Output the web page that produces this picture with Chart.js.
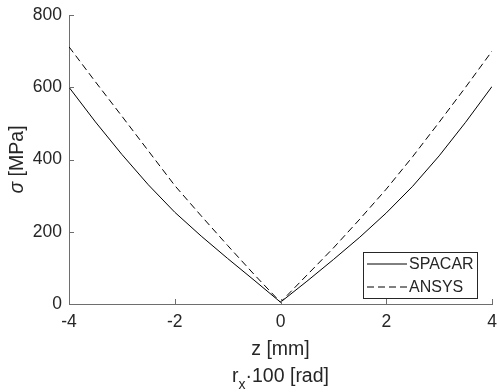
<!DOCTYPE html>
<html>
<head>
<meta charset="utf-8">
<script src="https://cdn.jsdelivr.net/npm/chart.js@4/dist/chart.umd.min.js"></script>
<style>
  body { margin: 0; background: #fff; }
  #wrap { width: 497px; height: 392px; }
</style>
</head>
<body>
<div id="wrap"><canvas id="chart1"></canvas></div>
<script>
// data (z in mm, sigma in MPa)
var zValues = [-4, -3.5, -3, -2.5, -2, -1.5, -1, -0.5, 0, 0.5, 1, 1.5, 2, 2.5, 3, 3.5, 4]
var spacarValues = [600, 504, 414, 330, 254, 188, 126, 66, 5, 63, 123, 185, 252, 326, 410, 503, 602]
var ansysValues = [712, 615, 520, 424, 328, 244, 162, 82, 5, 80, 155, 235, 318, 408, 503, 600, 700]
var xTicks = [-4, -2, 0, 2, 4]
var yTicks = [0, 200, 400, 600, 800]
var seriesNames = ['SPACAR', 'ANSYS']

var FONT = '"Liberation Sans", Arial, Helvetica, sans-serif'
var textColor = '#262626'
var axisColor = '#6e6e6e'

function toPoints(xs, ys) {
    var pts = []
    for (var i = 0; i < xs.length; i++) {
        pts.push({x: xs[i], y: ys[i]})
    }
    return pts
}

// matlab-ish extras: inward ticks, axis titles, boxed legend
var extrasPlugin = {
    id: 'extras',
    afterDatasetsDraw: function(chart) {
        var ctx = chart.ctx
        var area = chart.chartArea
        var xs = chart.scales.x
        var ys = chart.scales.y
        ctx.save()

        // inward ticks
        ctx.strokeStyle = axisColor
        ctx.lineWidth = 1
        ctx.beginPath()
        for (var i = 0; i < xTicks.length; i++) {
            var px = Math.round(xs.getPixelForValue(xTicks[i])) + 0.5
            ctx.moveTo(px, area.bottom)
            ctx.lineTo(px, area.bottom - 5)
        }
        for (var j = 0; j < yTicks.length; j++) {
            var py = Math.round(ys.getPixelForValue(yTicks[j])) + 0.5
            ctx.moveTo(area.left, py)
            ctx.lineTo(area.left + 5, py)
        }
        ctx.stroke()

        // x title, two lines
        var cx = (area.left + area.right) / 2
        ctx.fillStyle = textColor
        ctx.textBaseline = 'middle'
        ctx.textAlign = 'center'
        ctx.font = '19.5px ' + FONT
        ctx.fillText('z [mm]', cx, area.bottom + 46)

        ctx.textAlign = 'left'
        var subFont = '14px ' + FONT
        var wR = ctx.measureText('r').width
        var rest = '\u00b7100 [rad]'
        var wRest = ctx.measureText(rest).width
        ctx.font = subFont
        var wX = ctx.measureText('x').width
        var total = wR + wX + wRest
        var sx = cx - total / 2
        var ly = area.bottom + 73
        ctx.font = '19.5px ' + FONT
        ctx.fillText('r', sx, ly)
        ctx.font = subFont
        ctx.fillText('x', sx + wR, ly + 8)
        ctx.font = '19.5px ' + FONT
        ctx.fillText(rest, sx + wR + wX, ly)

        // y title, rotated
        ctx.save()
        ctx.translate(18, (area.top + area.bottom) / 2)
        ctx.rotate(-Math.PI / 2)
        ctx.font = 'italic 19.5px ' + FONT
        var wS = ctx.measureText('\u03c3').width
        ctx.font = '19.5px ' + FONT
        var wM = ctx.measureText(' [MPa]').width
        var tx = -(wS + wM) / 2
        ctx.font = 'italic 19.5px ' + FONT
        ctx.fillText('\u03c3', tx, 0)
        ctx.font = '19.5px ' + FONT
        ctx.fillText(' [MPa]', tx + wS, 0)
        ctx.restore()

        // legend box in lower right corner
        var bw = 114, bh = 46
        var bx = area.right - 15 - bw
        var by = area.bottom - 6 - bh
        ctx.fillStyle = '#ffffff'
        ctx.fillRect(bx, by, bw, bh)
        ctx.strokeStyle = '#262626'
        ctx.lineWidth = 1
        ctx.strokeRect(Math.round(bx) + 0.5, Math.round(by) + 0.5, bw, bh)
        ctx.font = '16px ' + FONT
        ctx.fillStyle = textColor
        for (var k = 0; k < seriesNames.length; k++) {
            var yy = by + 12 + k * 23
            ctx.strokeStyle = '#000'
            ctx.setLineDash(k == 0 ? [] : [7, 4])
            ctx.beginPath()
            ctx.moveTo(bx + 4, yy)
            ctx.lineTo(bx + 44, yy)
            ctx.stroke()
            ctx.setLineDash([])
            ctx.fillText(seriesNames[k], bx + 46, yy + 1)
        }
        ctx.restore()
    }
}

var lineChartData = {
    datasets: [{
        label: seriesNames[0],
        data: toPoints(zValues, spacarValues),
        borderColor: '#000',
        borderWidth: 1,
        pointRadius: 0,
        fill: false,
    }, {
        label: seriesNames[1],
        data: toPoints(zValues, ansysValues),
        borderColor: '#000',
        borderWidth: 1,
        borderDash: [7, 4],
        pointRadius: 0,
        fill: false,
    }]
}

new Chart(document.getElementById('chart1'), {
    type: 'line',
    data: lineChartData,
    plugins: [extrasPlugin],
    options: {
        responsive: true,
        maintainAspectRatio: false,
        animation: false,
        layout: { padding: { top: 15, right: 5, left: 0, bottom: 0 } },
        plugins: {
            legend: { display: false },
            tooltip: { enabled: false },
        },
        scales: {
            x: {
                type: 'linear',
                min: -4,
                max: 4,
                afterBuildTicks: function(scale) {
                    scale.ticks = xTicks.map(function(v) { return {value: v} })
                },
                afterFit: function(scale) {
                    scale.height = 88
                    scale.paddingLeft = 0
                    scale.paddingRight = 0
                },
                grid: { display: false, drawTicks: false },
                border: { display: true, color: axisColor, width: 1 },
                ticks: {
                    color: textColor,
                    font: { family: FONT, size: 17.5 },
                    padding: 8,
                    maxRotation: 0,
                },
            },
            y: {
                min: 0,
                max: 800,
                afterBuildTicks: function(scale) {
                    scale.ticks = yTicks.map(function(v) { return {value: v} })
                },
                afterFit: function(scale) {
                    scale.width = 69
                    scale.paddingTop = 0
                    scale.paddingBottom = 0
                },
                grid: { display: false, drawTicks: false },
                border: { display: true, color: axisColor, width: 1 },
                ticks: {
                    color: textColor,
                    font: { family: FONT, size: 17.5 },
                    padding: 7,
                },
            },
        },
    },
})
</script>
</body>
</html>
